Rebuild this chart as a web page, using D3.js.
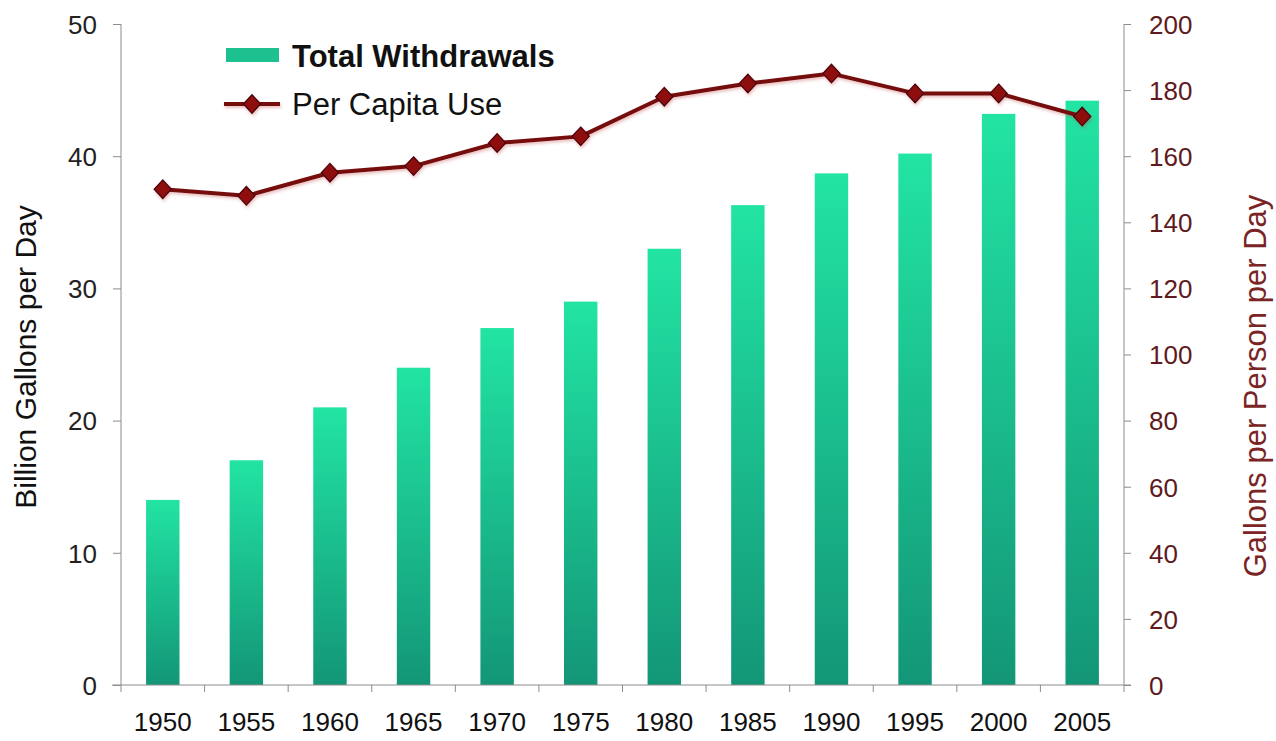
<!DOCTYPE html>
<html>
<head>
<meta charset="utf-8">
<script src="https://cdn.jsdelivr.net/npm/d3@7"></script>
<style>
  html, body { margin: 0; padding: 0; background: #fff; }
  svg { display: block; font-family: "Liberation Sans", Arial, sans-serif; }
</style>
</head>
<body>
<svg id="chart" width="1276" height="741"></svg>
<script>
// Public water supply in the U.S., 1950-2005
const years = ["1950", "1955", "1960", "1965", "1970", "1975", "1980", "1985", "1990", "1995", "2000", "2005"];
const totalWithdrawals = [14, 17, 21, 24, 27, 29, 33, 36.3, 38.7, 40.2, 43.2, 44.2];   // billion gallons per day
const perCapitaUse = [150, 148, 155, 157, 164, 166, 178, 182, 185, 179, 179, 172];     // gallons per person per day
const leftTicks = [0, 10, 20, 30, 40, 50];
const rightTicks = [0, 20, 40, 60, 80, 100, 120, 140, 160, 180, 200];

(function drawChart() {
  const svg = d3.select("#chart");
  const plotLeft = 121, plotRight = 1124, plotTop = 24, plotBottom = 685;
  const axisGray = "#8c8c8c";
  const lineRed = "#760a0c";

  const x = d3.scaleBand().domain(years).range([plotLeft, plotRight]).padding(0);
  const yL = d3.scaleLinear().domain([0, 50]).range([plotBottom, plotTop]);
  const yR = d3.scaleLinear().domain([0, 200]).range([plotBottom, plotTop]);

  const defs = svg.append("defs");
  const grad = defs.append("linearGradient")
    .attr("id", "barFill").attr("x1", 0).attr("y1", 0).attr("x2", 0).attr("y2", 1);
  grad.append("stop").attr("offset", "0%").attr("stop-color", "#22e4a3");
  grad.append("stop").attr("offset", "100%").attr("stop-color", "#139677");

  const shadow = defs.append("filter").attr("id", "lineShadow")
    .attr("x", "-10%").attr("y", "-50%").attr("width", "120%").attr("height", "200%");
  shadow.append("feDropShadow").attr("dx", 1).attr("dy", 2).attr("stdDeviation", 1.6)
    .attr("flood-color", "#c04040").attr("flood-opacity", 0.35);

  // bars
  const barW = x.bandwidth() * 0.4;
  svg.append("g").selectAll("rect")
    .data(years)
    .join("rect")
    .attr("x", (d) => x(d) + (x.bandwidth() - barW) / 2)
    .attr("y", (d, i) => yL(totalWithdrawals[i]))
    .attr("width", barW)
    .attr("height", (d, i) => yL(0) - yL(totalWithdrawals[i]))
    .attr("fill", "url(#barFill)");

  // left axis
  const gL = svg.append("g").attr("transform", `translate(${plotLeft},0)`)
    .call(d3.axisLeft(yL).tickValues(leftTicks).tickSize(8).tickPadding(16).tickFormat(d3.format("d")));
  gL.select(".domain").attr("stroke", axisGray).attr("d", `M0,${plotTop}V${plotBottom}`);
  gL.selectAll(".tick line").attr("stroke", axisGray);
  gL.selectAll(".tick text").attr("fill", "#222").style("font-size", "26px").attr("dy", "0.36em");

  // right axis
  const gR = svg.append("g").attr("transform", `translate(${plotRight},0)`)
    .call(d3.axisRight(yR).tickValues(rightTicks).tickSize(7).tickPadding(18).tickFormat(d3.format("d")));
  gR.select(".domain").attr("stroke", axisGray).attr("d", `M0,${plotTop}V${plotBottom}`);
  gR.selectAll(".tick line").attr("stroke", axisGray);
  gR.selectAll(".tick text").attr("fill", "#5e1a1c").style("font-size", "26px").attr("dy", "0.36em");

  // bottom axis: labels at category centres, ticks on category boundaries
  const gB = svg.append("g").attr("transform", `translate(0,${plotBottom})`)
    .call(d3.axisBottom(x).tickSize(0).tickPadding(0));
  gB.select(".domain").attr("stroke", axisGray).attr("d", `M${plotLeft - 9},0H${plotRight + 7}`);
  gB.selectAll(".tick text").attr("fill", "#111").style("font-size", "26px")
    .attr("y", 46).attr("dy", 0);
  const bounds = years.map((d) => x(d)).concat([plotRight]);
  gB.append("g").selectAll("line")
    .data(bounds)
    .join("line")
    .attr("x1", (d) => d).attr("x2", (d) => d)
    .attr("y1", 0).attr("y2", 7)
    .attr("stroke", axisGray);

  // per-capita line
  const cx = (d) => x(d) + x.bandwidth() / 2;
  const line = d3.line().x((d, i) => cx(years[i])).y((d) => yR(d));
  const gLine = svg.append("g").attr("filter", "url(#lineShadow)");
  gLine.append("path")
    .datum(perCapitaUse)
    .attr("d", line)
    .attr("fill", "none")
    .attr("stroke", lineRed)
    .attr("stroke-width", 4)
    .attr("stroke-linejoin", "round");

  const diamond = d3.symbol().type(d3.symbolDiamond2).size(190);
  gLine.selectAll(".marker")
    .data(perCapitaUse)
    .join("path")
    .attr("class", "marker")
    .attr("transform", (d, i) => `translate(${cx(years[i])},${yR(d)}) scale(1,1.08)`)
    .attr("d", diamond)
    .attr("fill", "#8e0a10")
    .attr("stroke", "#4a0508")
    .attr("stroke-width", 1.2);

  // axis titles
  svg.append("text")
    .attr("transform", "translate(36,357) rotate(-90)")
    .attr("text-anchor", "middle")
    .attr("fill", "#111")
    .style("font-size", "30px")
    .text("Billion Gallons per Day");

  svg.append("text")
    .attr("transform", "translate(1266,386) rotate(-90)")
    .attr("text-anchor", "middle")
    .attr("fill", "#7a2426")
    .style("font-size", "31px")
    .text("Gallons per Person per Day");

  // legend
  const lg = svg.append("g");
  lg.append("rect").attr("x", 226).attr("y", 48).attr("width", 53).attr("height", 14).attr("fill", "#1cc18f");
  lg.append("text").attr("x", 292).attr("y", 67).attr("fill", "#111")
    .style("font-size", "31px").style("font-weight", "bold").text("Total Withdrawals");
  const lgLine = lg.append("g").attr("filter", "url(#lineShadow)");
  lgLine.append("line").attr("x1", 224).attr("x2", 280).attr("y1", 104).attr("y2", 104)
    .attr("stroke", lineRed).attr("stroke-width", 4);
  lgLine.append("path").attr("transform", "translate(252,104) scale(1,1.08)").attr("d", diamond)
    .attr("fill", "#8e0a10").attr("stroke", "#4a0508").attr("stroke-width", 1.2);
  lg.append("text").attr("x", 292).attr("y", 115).attr("fill", "#111")
    .style("font-size", "31px").text("Per Capita Use");
})();
</script>
</body>
</html>
